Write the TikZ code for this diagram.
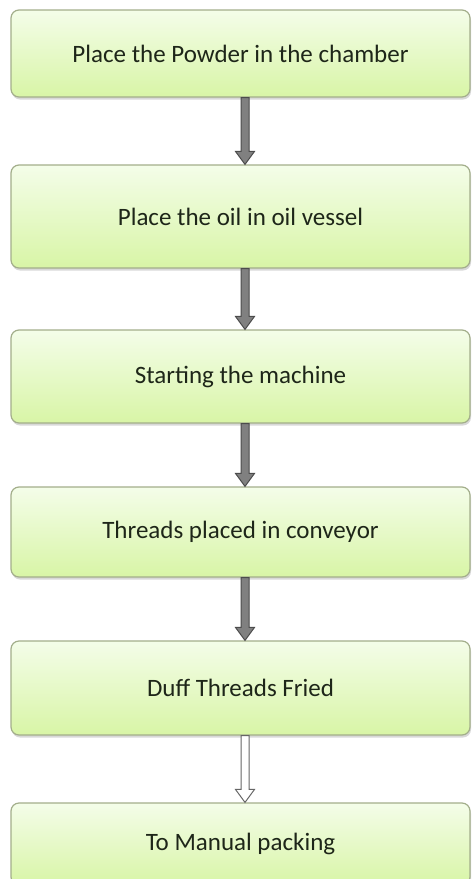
\documentclass[tikz,border=0pt]{standalone}
\usepackage{fontspec}
\setmainfont{Carlito}
\usetikzlibrary{calc,shadows}
\definecolor{boxtop}{HTML}{F4FDE9}
\definecolor{boxbot}{HTML}{D8F5A6}
\definecolor{boxline}{HTML}{A3AE8B}
\definecolor{inkdark}{HTML}{1E2619}
% block arrow from the bottom of #1 to the top of #2
\newcommand{\flowarrow}[3]{%
  \draw[#3,line join=miter] ($(#1.south)+(0.5,0)$) -- ($(#2.north)+(0.5,-13)$)
    -- ($(#2.north)+(-5,-13)$) -- ($(#2.north)+(4.5,0)$) -- ($(#2.north)+(14,-13)$)
    -- ($(#2.north)+(8.5,-13)$) -- ($(#1.south)+(8.5,0)$) -- cycle;}
\begin{document}
\begin{tikzpicture}[x=1pt,y=-1pt,
  stage/.style={rectangle,rounded corners=8pt,draw=boxline,line width=1.2pt,
    top color=boxtop,bottom color=boxbot,minimum width=459pt,
    text=inkdark,font=\fontsize{25}{30}\selectfont,
    drop shadow={shadow xshift=1pt,shadow yshift=-2.5pt,opacity=0.3}},
  fullarrow/.style={draw=black!70,fill=black!50,line width=1pt},
  openarrow/.style={draw=black!60,fill=white,line width=1pt}]
\clip (0,0) rectangle (473,879);
\fill[white] (0,0) rectangle (473,879);
\node[stage,minimum height=87pt] (s1) at (240.5,53.5) {Place the Powder in the chamber};
\node[stage,minimum height=103pt] (s2) at (240.5,216.5) {Place the oil in oil vessel};
\node[stage,minimum height=93pt] (s3) at (240.5,376.5) {Starting the machine};
\node[stage,minimum height=90pt] (s4) at (240.5,532) {Threads placed in conveyor};
\node[stage,minimum height=94pt] (s5) at (240.5,688) {Duff Threads Fried};
\node[stage,minimum height=82pt] (s6) at (240.5,844) {To Manual packing};
\flowarrow{s1}{s2}{fullarrow}
\flowarrow{s2}{s3}{fullarrow}
\flowarrow{s3}{s4}{fullarrow}
\flowarrow{s4}{s5}{fullarrow}
\flowarrow{s5}{s6}{openarrow}
\end{tikzpicture}
\end{document}
